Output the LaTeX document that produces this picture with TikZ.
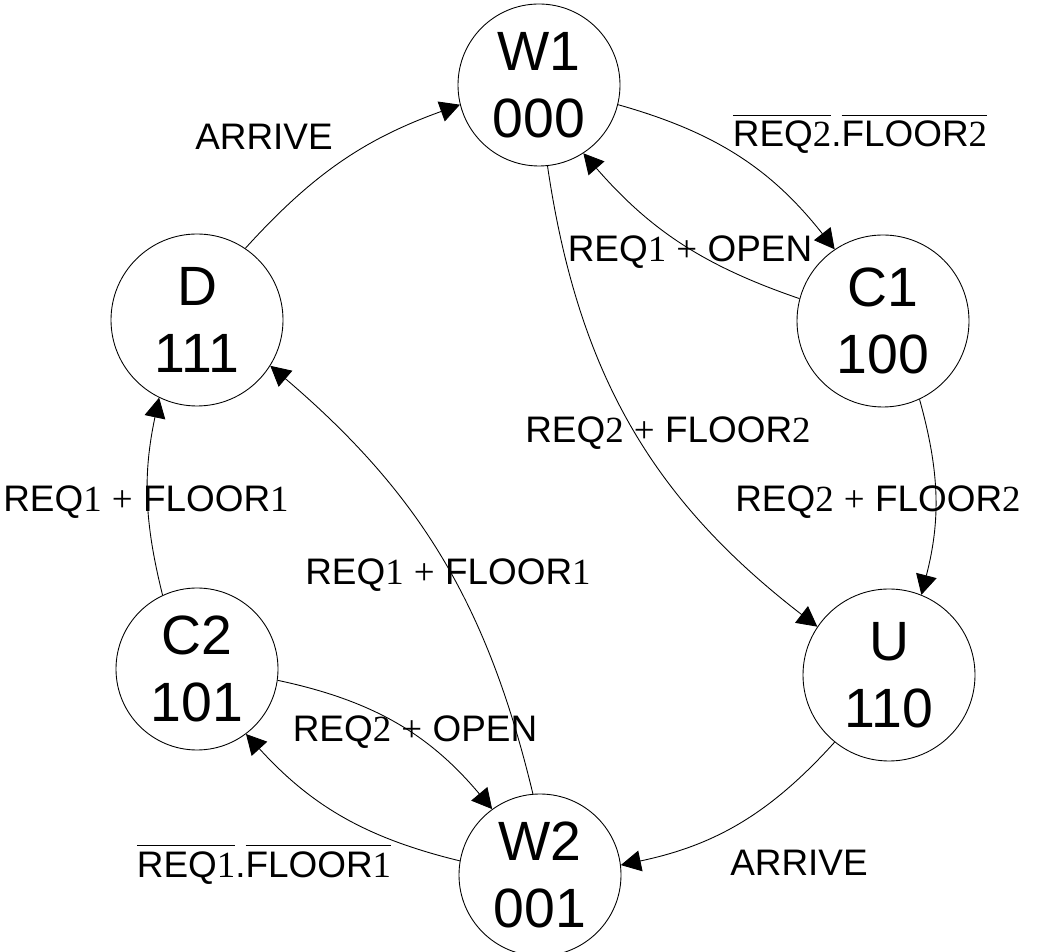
\documentclass[tikz,border=0pt]{standalone}
\usepackage{fontspec}
\setmainfont{Liberation Sans}
\newfontfamily\digitfont{Liberation Serif}
\usepackage{tikz}
\usetikzlibrary{arrows.meta}
\newcommand{\dg}[1]{{\digitfont #1}}
\newcommand{\negsig}[1]{$\overline{\hbox{\rule{0pt}{0.8em}#1}}$}
\tikzset{
    state_node/.style={
        circle, draw=black, line width=0.5pt,
        minimum size=3.24cm, inner sep=0pt,
        align=center,
        font=\fontsize{31.5}{38}\selectfont
    },
    wide_state/.style={
        state_node, minimum size=3.44cm
    },
    trans/.style={
        -{Triangle[length=4mm, width=4.2mm]}, line width=0.5pt
    },
    cond/.style={
        anchor=base, inner sep=0pt,
        font=\fontsize{21}{25}\selectfont
    }
}

\begin{document}
\begin{tikzpicture}
\useasboundingbox (0,0) rectangle (20.84,19.02);

% states
\node[state_node] (w1) at (10.78,17.32) {W1\\000};
\node[wide_state] (c1) at (17.66,12.60) {C1\\100};
\node[wide_state] (u)  at (17.78,5.52)  {U\\110};
\node[state_node] (w2) at (10.80,1.52)  {W2\\001};
\node[state_node] (c2) at (3.94,5.64)   {C2\\101};
\node[wide_state] (d)  at (3.94,12.62)  {D\\111};

% conditions
\node[cond] (arrive_top) at (5.28,16.02) {ARRIVE};
\node[cond] (lbl_w1c1) at (17.20,16.08) {\negsig{REQ\dg{2}}.\negsig{FLOOR\dg{2}}};
\node[cond] (lbl_c1w1) at (13.80,13.78) {REQ\dg{1} \dg{+} OPEN};
\node[cond] (lbl_w1u) at (13.36,10.16) {REQ\dg{2} \dg{+} FLOOR\dg{2}};
\node[cond] (lbl_c1u) at (17.56,8.78) {REQ\dg{2} \dg{+} FLOOR\dg{2}};
\node[cond] (lbl_c2d) at (2.92,8.78) {REQ\dg{1} \dg{+} FLOOR\dg{1}};
\node[cond] (lbl_w2d) at (8.96,7.32) {REQ\dg{1} \dg{+} FLOOR\dg{1}};
\node[cond] (lbl_c2w2) at (8.30,4.18) {REQ\dg{2} \dg{+} OPEN};
\node[cond] (lbl_w2c2) at (5.28,1.48) {\negsig{REQ\dg{1}}.\negsig{FLOOR\dg{1}}};
\node[cond] (arrive_bot) at (15.98,1.52) {ARRIVE};

% transitions
\draw[trans] (w1.-14) to[bend left=18] (c1.124);
\draw[trans] (c1.165) to[bend left=15] (w1.-57);
\draw[trans] (w1.-84) to[bend right=22] (u.146);
\draw[trans] (c1.-65) to[bend left=15] (u.68);
\draw[trans] (u.-129) to[bend left=18] (w2.7);
\draw[trans] (w2.170) to[bend left=17] (c2.-53);
\draw[trans] (c2.-8) to[bend left=19] (w2.126);
\draw[trans] (w2.95) to[bend right=18] (d.-32);
\draw[trans] (c2.115) to[bend left=13] (d.-116);
\draw[trans] (d.56) to[bend left=14] (w1.-166);

\end{tikzpicture}
\end{document}
